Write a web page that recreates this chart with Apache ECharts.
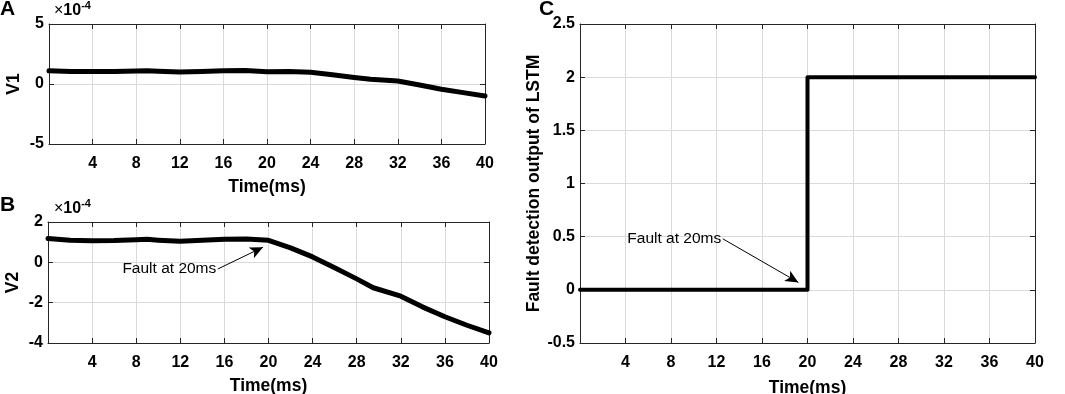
<!DOCTYPE html>
<html>
<head>
<meta charset="utf-8">
<script src="https://cdn.jsdelivr.net/npm/echarts@6/dist/echarts.min.js"></script>
<style>
    html, body { margin: 0; padding: 0; background: #fff; }
    #chart { width: 1065px; height: 394px; }
</style>
</head>
<body>
<div id="chart"></div>
<script>
// time axis (ms)
let timeV = [0, 2, 4, 6, 8, 9, 10, 12, 14, 16, 18, 20, 22, 24, 26, 28, 29.5, 32, 34, 36, 38, 40];
// V1, V2 in units of 1e-4
let v1 = [1.1, 1.05, 1.05, 1.05, 1.08, 1.1, 1.06, 1.0, 1.05, 1.1, 1.12, 1.03, 1.05, 0.97, 0.78, 0.55, 0.39, 0.25, -0.08, -0.44, -0.72, -1.0];
let v2 = [1.18, 1.09, 1.07, 1.08, 1.12, 1.14, 1.1, 1.04, 1.1, 1.14, 1.16, 1.09, 0.72, 0.27, -0.27, -0.82, -1.26, -1.68, -2.22, -2.7, -3.12, -3.5];
// LSTM detection output (step)
let timeC = [0, 20, 20, 40];
let lstmOut = [0, 0, 2, 2];

// annotation: [text end, arrow tip]
let noteB = [[15.4, -0.33], [19.5, 0.75]];
let noteC = [[12.55, 0.48], [19.2, 0.07]];
let noteText = 'Fault at 20ms';

let FONT = 'Arial, "Liberation Sans", sans-serif';
let AXIS_COLOR = '#262626';
let GRID_COLOR = '#dadada';

let pairs = (xs, ys) => xs.map((x, i) => [x, ys[i]]);

let titleStyle = { fontFamily: FONT, fontWeight: 'bold', fontSize: 17.5, color: '#000' };
let tickLabelStyle = { fontFamily: FONT, fontWeight: 'bold', fontSize: 16, color: '#000' };

let mainX = (gridIndex, nameGap) => ({
    type: 'value',
    gridIndex: gridIndex,
    min: 0,
    max: 40,
    interval: 4,
    name: 'Time(ms)',
    nameLocation: 'middle',
    nameGap: nameGap,
    nameTextStyle: titleStyle,
    axisLine: { show: true, onZero: false, lineStyle: { color: AXIS_COLOR, width: 1 } },
    axisTick: { show: true, inside: true, length: 5, lineStyle: { color: AXIS_COLOR } },
    axisLabel: {
        ...tickLabelStyle, margin: 12,
        formatter: v => v === 0 ? '' : String(v)
    },
    splitLine: { show: true, lineStyle: { color: GRID_COLOR, width: 1 } }
});

let sideX = gridIndex => ({
    type: 'value',
    gridIndex: gridIndex,
    position: 'top',
    min: 0,
    max: 40,
    interval: 4,
    axisLine: { show: true, onZero: false, lineStyle: { color: AXIS_COLOR, width: 1 } },
    axisTick: { show: true, inside: true, length: 5, lineStyle: { color: AXIS_COLOR } },
    axisLabel: { show: false },
    splitLine: { show: false }
});

let mainY = (gridIndex, min, max, interval, name, nameGap) => ({
    type: 'value',
    gridIndex: gridIndex,
    min: min,
    max: max,
    interval: interval,
    name: name,
    nameLocation: 'middle',
    nameGap: nameGap,
    nameTextStyle: titleStyle,
    axisLine: { show: true, onZero: false, lineStyle: { color: AXIS_COLOR, width: 1 } },
    axisTick: { show: true, inside: true, length: 5, lineStyle: { color: AXIS_COLOR } },
    axisLabel: { ...tickLabelStyle, margin: 5 },
    splitLine: { show: true, lineStyle: { color: GRID_COLOR, width: 1 } }
});

let sideY = (gridIndex, min, max, interval) => ({
    type: 'value',
    gridIndex: gridIndex,
    position: 'right',
    min: min,
    max: max,
    interval: interval,
    axisLine: { show: true, onZero: false, lineStyle: { color: AXIS_COLOR, width: 1 } },
    axisTick: { show: true, inside: true, length: 5, lineStyle: { color: AXIS_COLOR } },
    axisLabel: { show: false },
    splitLine: { show: false }
});

let annotation = (note) => ({
    silent: true,
    symbol: ['none', 'arrow'],
    symbolSize: [9, 13],
    label: { show: false },
    lineStyle: { color: '#000', width: 1, type: 'solid' },
    data: [[{ coord: note[0] }, { coord: note[1] }]]
});

let annotationText = (note) => ({
    silent: true,
    symbol: 'circle',
    symbolSize: 1,
    itemStyle: { color: 'rgba(0,0,0,0)' },
    label: {
        show: true, position: 'left', distance: 1,
        formatter: noteText,
        fontFamily: FONT, fontSize: 15.5, color: '#000'
    },
    data: [{ coord: note[0] }]
});

let expRich = {
    x: { fontFamily: FONT, fontSize: 16, color: '#000' },
    b: { fontFamily: FONT, fontSize: 16, fontWeight: 'bold', color: '#000' },
    s: { fontFamily: FONT, fontSize: 11, fontWeight: 'bold', color: '#000', padding: [0, 0, 11, 0] }
};

let lineSeries = (xIdx, yIdx, data, width) => ({
    type: 'line',
    xAxisIndex: xIdx,
    yAxisIndex: yIdx,
    data: data,
    showSymbol: false,
    symbol: 'none',
    smooth: false,
    lineStyle: { color: '#000', width: width, cap: 'round', join: 'round' }
});

let option = {
    animation: false,
    backgroundColor: '#fff',
    grid: [
        { left: 49, top: 24, width: 436, height: 120, outerBoundsMode: 'none' },
        { left: 48, top: 222, width: 441, height: 121, outerBoundsMode: 'none' },
        { left: 580, top: 24, width: 455, height: 319, outerBoundsMode: 'none' }
    ],
    xAxis: [
        mainX(0, 34), mainX(1, 34), mainX(2, 36),
        sideX(0), sideX(1), sideX(2)
    ],
    yAxis: [
        mainY(0, -5, 5, 5, 'V1', 26),
        mainY(1, -4, 2, 2, 'V2', 26),
        mainY(2, -0.5, 2.5, 0.5, 'Fault detection output of LSTM', 36),
        sideY(0, -5, 5, 5), sideY(1, -4, 2, 2), sideY(2, -0.5, 2.5, 0.5)
    ],
    series: [
        lineSeries(0, 0, pairs(timeV, v1), 5),
        {
            ...lineSeries(1, 1, pairs(timeV, v2), 5),
            markLine: annotation(noteB),
            markPoint: annotationText(noteB)
        },
        {
            ...lineSeries(2, 2, pairs(timeC, lstmOut), 4),
            markLine: annotation(noteC),
            markPoint: annotationText(noteC)
        }
    ],
    graphic: [
        { type: 'text', left: 0, top: -1, style: { text: 'A', font: 'bold 21px ' + FONT, fill: '#000' } },
        { type: 'text', left: 0, top: 195, style: { text: 'B', font: 'bold 21px ' + FONT, fill: '#000' } },
        { type: 'text', left: 539, top: -1, style: { text: 'C', font: 'bold 21px ' + FONT, fill: '#000' } },
        { type: 'text', left: 54, top: 0, style: { rich: expRich, text: '{x|×}{b|10}{s|-4}' } },
        { type: 'text', left: 54, top: 198, style: { rich: expRich, text: '{x|×}{b|10}{s|-4}' } }
    ]
};

let chart = echarts.init(document.getElementById('chart'), null, { renderer: 'canvas' });
chart.setOption(option);
</script>
</body>
</html>
